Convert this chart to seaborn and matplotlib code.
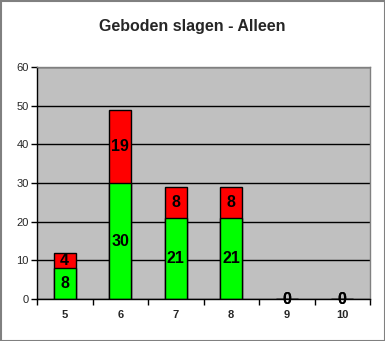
import matplotlib
matplotlib.use("Agg")
import matplotlib.pyplot as plt
import seaborn as sns
import pandas as pd
import numpy as np
from matplotlib.patches import Rectangle

categories = ["5", "6", "7", "8", "9", "10"]
green_vals = [8, 30, 21, 21, 0, 0]
red_vals = [4, 19, 8, 8, 0, 0]

sns.set_theme(style="white")
plt.rcParams['font.family'] = ['Liberation Sans', 'DejaVu Sans']

df = pd.DataFrame({"cat": categories, "green": green_vals, "red": red_vals})
df["total"] = df["green"] + df["red"]

fig = plt.figure(figsize=(3.85, 3.41), dpi=100)
ax = fig.add_axes([37/385, 1 - 299/341, (370-37)/385, (299-67)/341])
ax.set_facecolor("#C0C0C0")
ax.set_axisbelow(True)
ax.yaxis.grid(True, color="black", linewidth=1)

sns.barplot(data=df, x="cat", y="total", color="#FF0000", saturation=1,
            width=0.39, edgecolor="black", linewidth=1, ax=ax)
sns.barplot(data=df, x="cat", y="green", color="#00FF00", saturation=1,
            width=0.39, edgecolor="black", linewidth=1, ax=ax)

for i, (g, r) in enumerate(zip(green_vals, red_vals)):
    ax.text(i, g / 2, str(g), ha="center", va="center", fontsize=11.5,
            fontweight="bold", color="black")
    ax.text(i, g + r / 2, str(r), ha="center", va="center", fontsize=11.5,
            fontweight="bold", color="black")

ax.set_xlim(-0.5, 5.5)
ax.set_ylim(0, 60)
ax.set_yticks(np.arange(0, 61, 10))
ax.set_xlabel("")
ax.set_ylabel("")
ax.set_xticks(range(6))
ax.set_xticklabels(categories, fontsize=8, fontweight="bold")
ax.set_xticks(np.arange(-0.5, 5.6, 1), minor=True)
ax.tick_params(axis="x", which="major", length=0, pad=8)
ax.tick_params(axis="x", which="minor", length=4, width=1, color="black", direction="out", bottom=True)
ax.tick_params(axis="y", which="major", length=4, width=1, color="black", direction="out",
               left=True, labelsize=8, pad=2)
for lab in ax.get_yticklabels():
    lab.set_fontweight("normal")

ax.spines["left"].set_color("black")
ax.spines["bottom"].set_color("black")
ax.spines["top"].set_color("#808080")
ax.spines["right"].set_color("#808080")
for s in ax.spines.values():
    s.set_linewidth(1)
    s.set_visible(True)

fig.text(0.5, 1 - 26.5/341, "Geboden slagen - Alleen", ha="center", va="center",
         fontsize=11.5, fontweight="bold")

fig.patches.append(Rectangle((0.5/385, 0.5/341), 1 - 1/385, 1 - 1/341, transform=fig.transFigure,
                             fill=False, edgecolor="#808080", linewidth=1.5))

fig.savefig("out.png", dpi=100)
